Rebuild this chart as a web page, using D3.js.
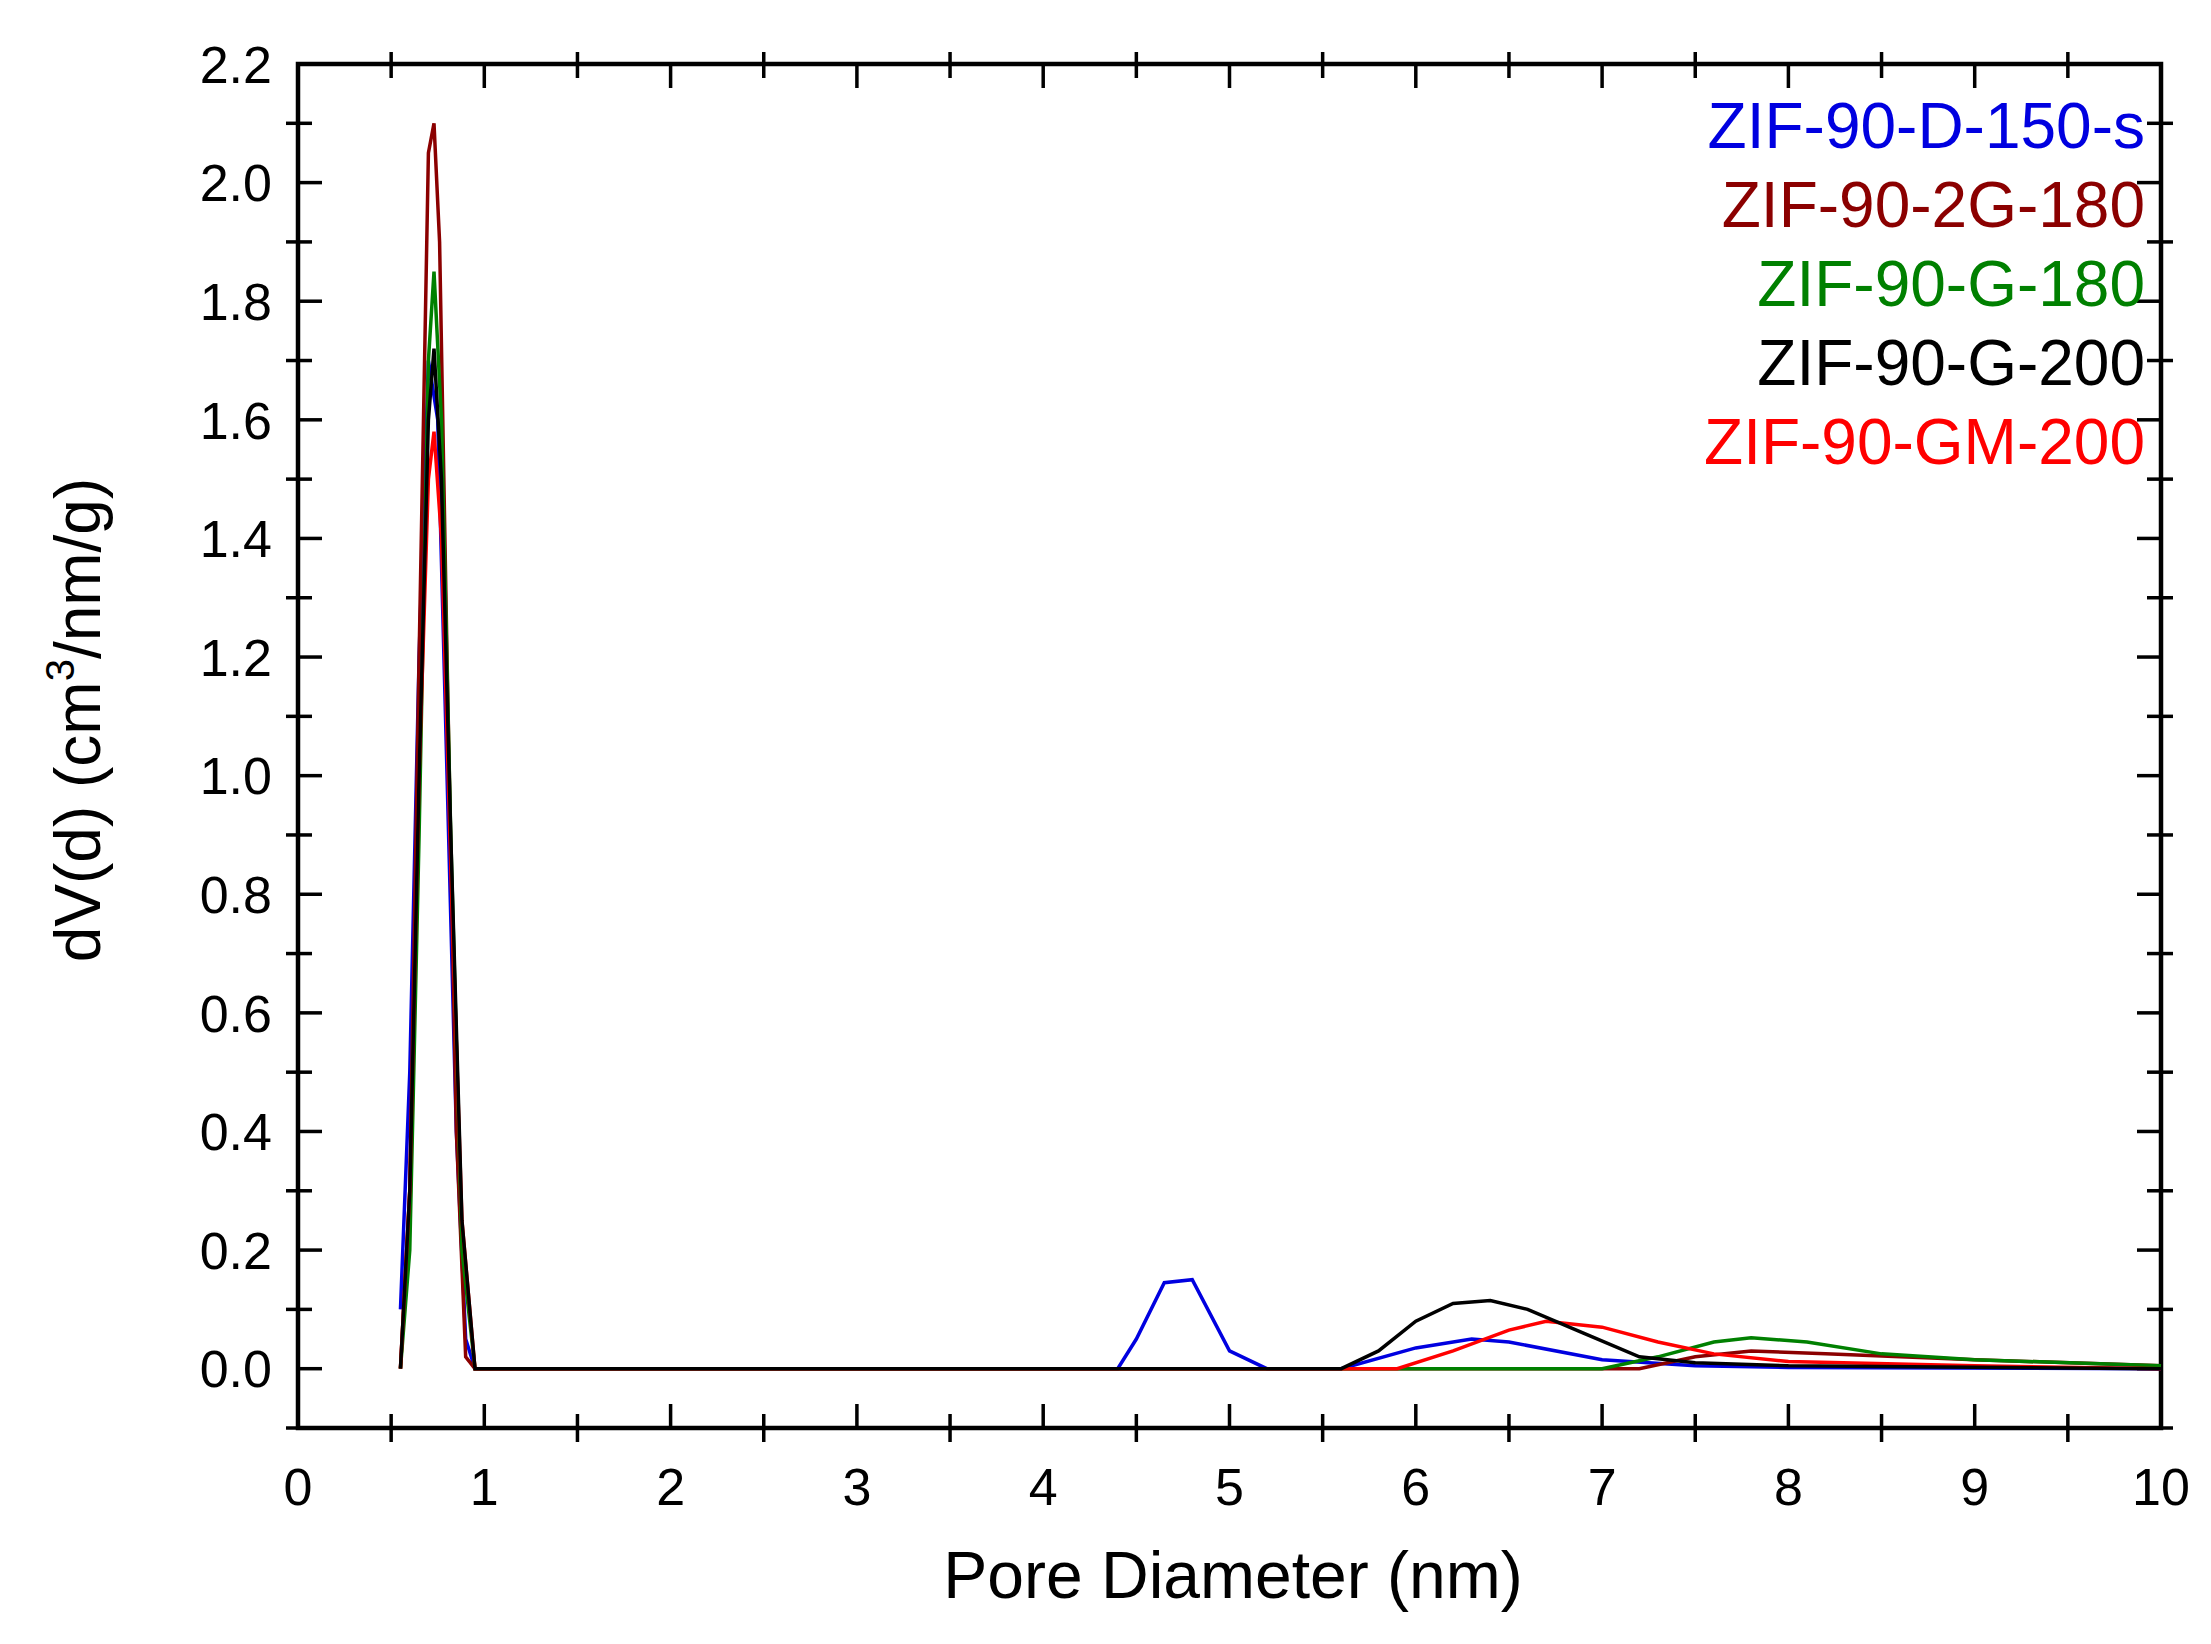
<!DOCTYPE html>
<html><head><meta charset="utf-8">
<script src="https://cdn.jsdelivr.net/npm/d3@7"></script>
<style>body{margin:0;background:#fff}text{font-family:"Liberation Sans",Arial,sans-serif}</style>
</head><body><svg id="c" width="2211" height="1644"></svg>
<script>
const seriesNames = ["ZIF-90-D-150-s","ZIF-90-2G-180","ZIF-90-G-180","ZIF-90-G-200","ZIF-90-GM-200"];
const seriesColors = ["#0000e0","#8b0000","#008000","#000000","#ff0000"];
const blueX = [0.55,0.6,0.65,0.7,0.75,0.8,0.85,0.9,0.95,4.4,4.5,4.65,4.8,5.0,5.2,5.6,6.0,6.3,6.5,7.0,7.5,8.0,10];
const blueY = [0.1,0.5,1.2,1.7,1.6,1.0,0.4,0.05,0,0,0.05,0.145,0.15,0.03,0,0,0.035,0.05,0.045,0.015,0.005,0.002,0];
const darkRedX = [0.55,0.6,0.65,0.7,0.73,0.76,0.8,0.85,0.9,0.95,7.2,7.5,7.8,8.2,9.0,10];
const darkRedY = [0,0.3,1.2,2.05,2.1,1.9,1.2,0.4,0.02,0,0,0.02,0.03,0.025,0.015,0.005];
const greenX = [0.55,0.6,0.65,0.7,0.73,0.77,0.82,0.88,0.95,7.0,7.3,7.6,7.8,8.1,8.5,9.0,10];
const greenY = [0,0.2,0.9,1.7,1.85,1.6,0.9,0.2,0,0,0.02,0.045,0.052,0.045,0.025,0.015,0.005];
const blackX = [0.55,0.6,0.65,0.7,0.73,0.77,0.82,0.88,0.95,5.6,5.8,6.0,6.2,6.4,6.6,6.9,7.2,7.5,8.0,10];
const blackY = [0,0.3,1.0,1.6,1.72,1.5,0.9,0.25,0,0,0.03,0.08,0.11,0.115,0.1,0.06,0.02,0.01,0.005,0];
const redX = [0.55,0.6,0.65,0.7,0.73,0.77,0.82,0.88,0.95,5.9,6.2,6.5,6.7,7.0,7.3,7.6,8.0,9.0,10];
const redY = [0,0.3,1.0,1.5,1.58,1.4,0.85,0.25,0,0,0.03,0.065,0.08,0.07,0.045,0.025,0.012,0.005,0];
const seriesX = [blueX,darkRedX,greenX,blackX,redX];
const seriesY = [blueY,darkRedY,greenY,blackY,redY];
const xTicks = [0,1,2,3,4,5,6,7,8,9,10];
const yTicks = [0,0.2,0.4,0.6,0.8,1.0,1.2,1.4,1.6,1.8,2.0,2.2];

const svg = d3.select("#c");
const L=298,R=2161,T=64,B=1428;
const x = d3.scaleLinear().domain([0,10]).range([L,R]);
const y = d3.scaleLinear().domain([-0.1,2.2]).range([B,T]);
const g = svg.append("g");
const minorX = d3.range(0.5,10,1), minorY = d3.range(-0.1,2.2,0.2);
function tk(x1,y1,x2,y2){g.append("line").attr("x1",x1).attr("y1",y1).attr("x2",x2).attr("y2",y2).attr("stroke","#000").attr("stroke-width",3.5);}
xTicks.forEach(v=>{tk(x(v),B,x(v),B-24);tk(x(v),T,x(v),T+24);});
minorX.forEach(v=>{tk(x(v),B+14,x(v),B-14);tk(x(v),T-12,x(v),T+14);});
yTicks.forEach(v=>{tk(L,y(v),L+24,y(v));tk(R,y(v),R-24,y(v));});
minorY.forEach(v=>{tk(L-12,y(v),L+14,y(v));tk(R+12,y(v),R-14,y(v));});
g.append("rect").attr("x",L).attr("y",T).attr("width",R-L).attr("height",B-T).attr("fill","none").attr("stroke","#000").attr("stroke-width",4.5);
xTicks.forEach(v=>g.append("text").attr("x",x(v)).attr("y",1505).attr("text-anchor","middle").attr("font-size",52).text(v));
yTicks.forEach(v=>g.append("text").attr("x",272).attr("y",y(v)).attr("dy","0.36em").attr("text-anchor","end").attr("font-size",52).text(v.toFixed(1)));
g.append("text").attr("x",1233).attr("y",1598).attr("text-anchor","middle").attr("font-size",66).text("Pore Diameter (nm)");
const yt = g.append("text").attr("transform","translate(100,720) rotate(-90)").attr("text-anchor","middle").attr("font-size",64);
yt.append("tspan").text("dV(d) (cm");
yt.append("tspan").attr("font-size",40).attr("dy",-26).text("3");
yt.append("tspan").attr("dy",26).text("/nm/g)");
const line = d3.line().x(d=>x(d[0])).y(d=>y(d[1]));
[0,1,2,4,3].forEach(i=>{
  const pts = seriesX[i].map((v,j)=>[v,seriesY[i][j]]);
  g.append("path").attr("d",line(pts)).attr("fill","none").attr("stroke",seriesColors[i]).attr("stroke-width",3.5);
});
seriesNames.forEach((n,i)=>g.append("text").attr("x",2145).attr("y",125+i*79).attr("dy","0.36em").attr("text-anchor","end").attr("font-size",64).attr("fill",seriesColors[i]).text(n));
</script></body></html>
